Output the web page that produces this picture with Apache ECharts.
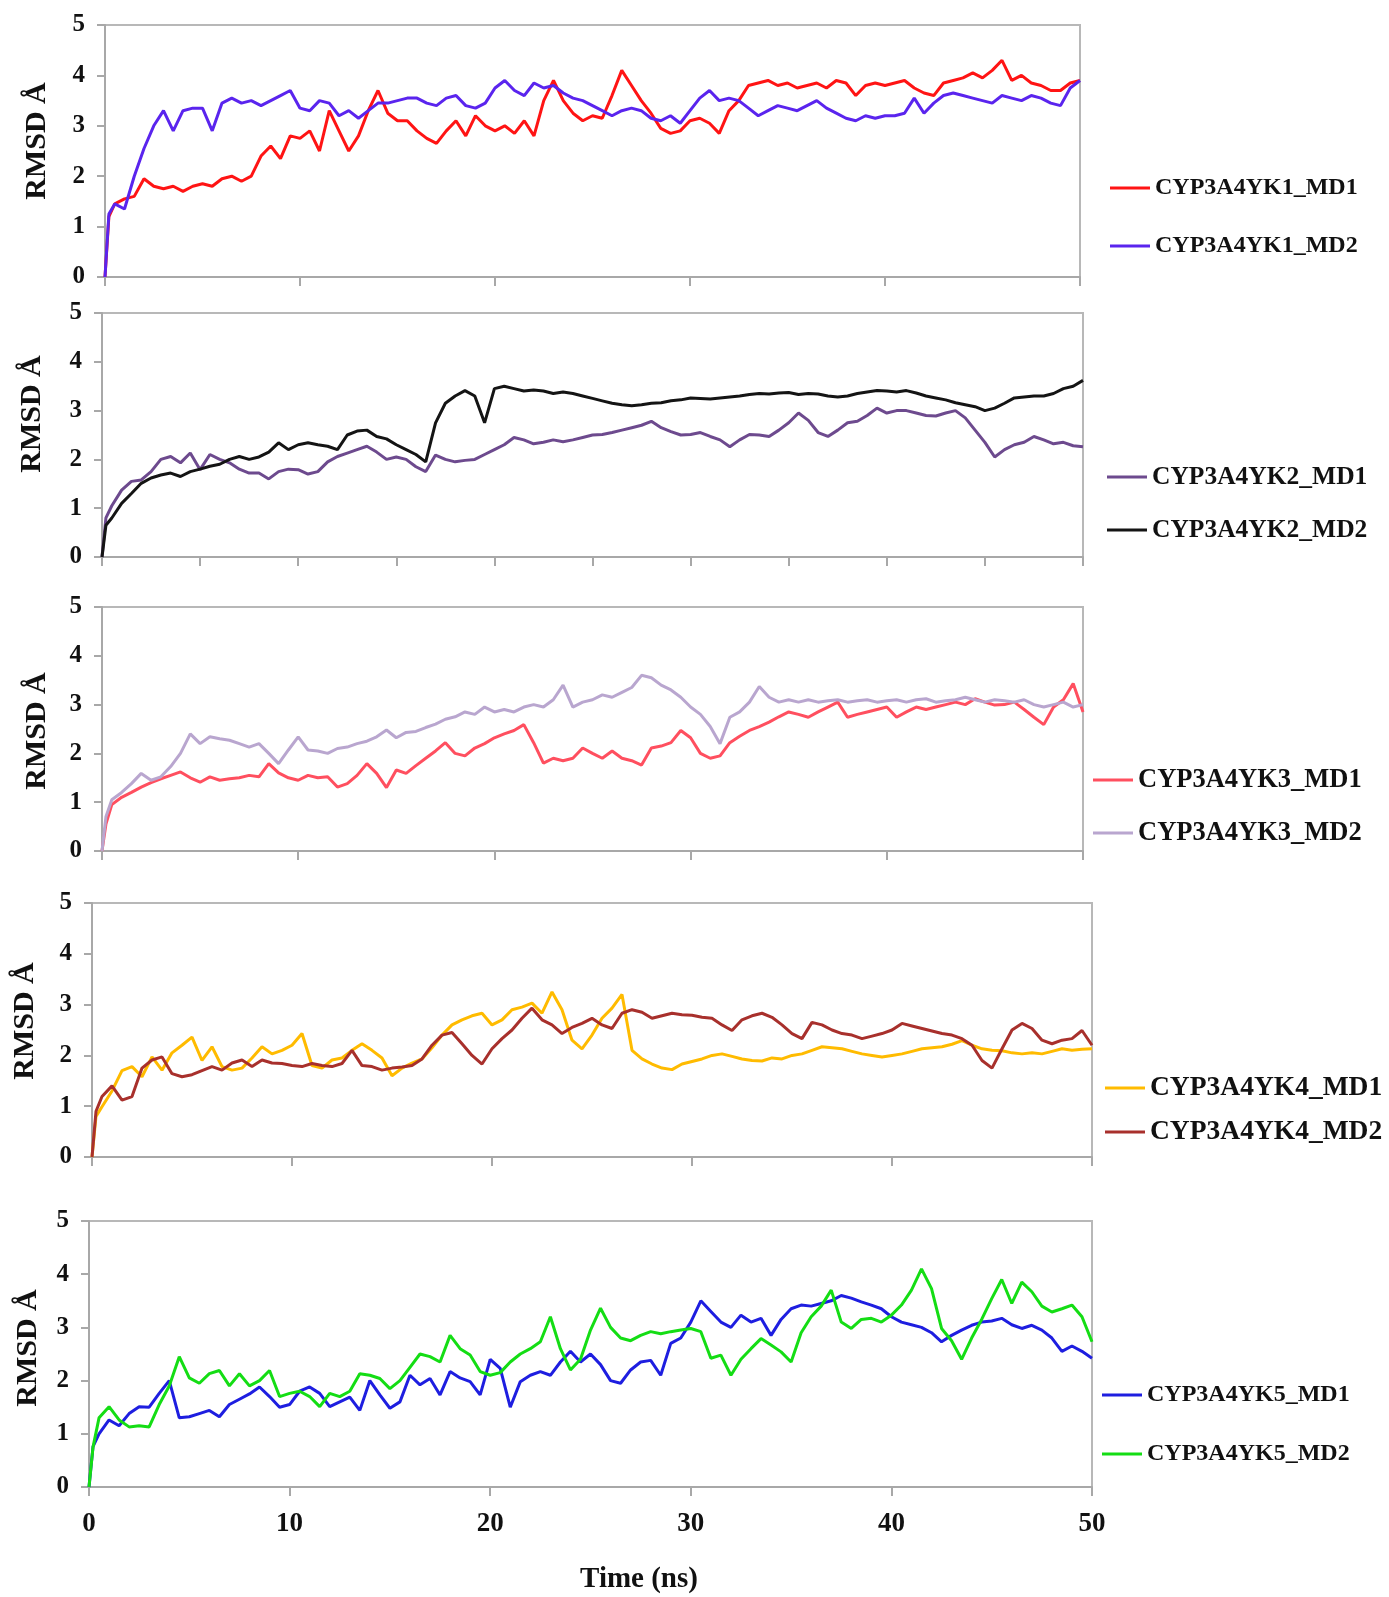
<!DOCTYPE html>
<html>
<head>
<meta charset="utf-8">
<title>CYP3A4 RMSD</title>
<script src="https://cdn.jsdelivr.net/npm/echarts@6/dist/echarts.min.js"></script>
<style>
  html, body { margin: 0; padding: 0; background: #fff; }
  #chart { width: 1389px; height: 1597px; }
</style>
</head>
<body>
<div id="chart"></div>
<script>
// time (ns)
var times = [0, 0.2,
  0.5, 1, 1.5, 2, 2.5, 3, 3.5, 4, 4.5, 5,
  5.5, 6, 6.5, 7, 7.5, 8, 8.5, 9, 9.5, 10,
  10.5, 11, 11.5, 12, 12.5, 13, 13.5, 14, 14.5, 15,
  15.5, 16, 16.5, 17, 17.5, 18, 18.5, 19, 19.5, 20,
  20.5, 21, 21.5, 22, 22.5, 23, 23.5, 24, 24.5, 25,
  25.5, 26, 26.5, 27, 27.5, 28, 28.5, 29, 29.5, 30,
  30.5, 31, 31.5, 32, 32.5, 33, 33.5, 34, 34.5, 35,
  35.5, 36, 36.5, 37, 37.5, 38, 38.5, 39, 39.5, 40,
  40.5, 41, 41.5, 42, 42.5, 43, 43.5, 44, 44.5, 45,
  45.5, 46, 46.5, 47, 47.5, 48, 48.5, 49, 49.5, 50];

// RMSD (Å) per run
var yk1md1 = [0, 1.2,
  1.45, 1.55, 1.6, 1.95, 1.8, 1.75, 1.8, 1.7, 1.8, 1.85,
  1.8, 1.95, 2.0, 1.9, 2.0, 2.4, 2.6, 2.35, 2.8, 2.75,
  2.9, 2.5, 3.3, 2.9, 2.5, 2.8, 3.3, 3.7, 3.25, 3.1,
  3.1, 2.9, 2.75, 2.65, 2.9, 3.1, 2.8, 3.2, 3.0, 2.9,
  3.0, 2.85, 3.1, 2.8, 3.5, 3.9, 3.5, 3.25, 3.1, 3.2,
  3.15, 3.6, 4.1, 3.8, 3.5, 3.25, 2.95, 2.85, 2.9, 3.1,
  3.15, 3.05, 2.85, 3.3, 3.5, 3.8, 3.85, 3.9, 3.8, 3.85,
  3.75, 3.8, 3.85, 3.75, 3.9, 3.85, 3.6, 3.8, 3.85, 3.8,
  3.85, 3.9, 3.75, 3.65, 3.6, 3.85, 3.9, 3.95, 4.05, 3.95,
  4.1, 4.3, 3.9, 4.0, 3.85, 3.8, 3.7, 3.7, 3.85, 3.9];
var yk1md2 = [0, 1.25,
  1.45, 1.35, 2.0, 2.55, 3.0, 3.3, 2.9, 3.3, 3.35, 3.35,
  2.9, 3.45, 3.55, 3.45, 3.5, 3.4, 3.5, 3.6, 3.7, 3.35,
  3.3, 3.5, 3.45, 3.2, 3.3, 3.15, 3.3, 3.45, 3.45, 3.5,
  3.55, 3.55, 3.45, 3.4, 3.55, 3.6, 3.4, 3.35, 3.45, 3.75,
  3.9, 3.7, 3.6, 3.85, 3.75, 3.8, 3.65, 3.55, 3.5, 3.4,
  3.3, 3.2, 3.3, 3.35, 3.3, 3.15, 3.1, 3.2, 3.05, 3.3,
  3.55, 3.7, 3.5, 3.55, 3.5, 3.35, 3.2, 3.3, 3.4, 3.35,
  3.3, 3.4, 3.5, 3.35, 3.25, 3.15, 3.1, 3.2, 3.15, 3.2,
  3.2, 3.25, 3.55, 3.25, 3.45, 3.6, 3.65, 3.6, 3.55, 3.5,
  3.45, 3.6, 3.55, 3.5, 3.6, 3.55, 3.45, 3.4, 3.75, 3.9];

var yk2md1 = [0, 0.8,
  1.05, 1.37, 1.55, 1.58, 1.75, 2.0, 2.06, 1.93, 2.13, 1.79,
  2.1, 2.0, 1.93, 1.8, 1.72, 1.72, 1.6, 1.75, 1.8, 1.79,
  1.7, 1.75, 1.95, 2.06, 2.13, 2.2, 2.27, 2.15, 2.0, 2.05,
  2.0, 1.85, 1.75, 2.09, 2.0, 1.95, 1.98, 2.0, 2.1, 2.2,
  2.3, 2.45, 2.4, 2.32, 2.35, 2.4, 2.36, 2.4, 2.45, 2.5,
  2.51, 2.55, 2.6, 2.65, 2.7, 2.78, 2.65, 2.57, 2.5, 2.51,
  2.55, 2.47, 2.4, 2.26, 2.4, 2.51, 2.5, 2.47, 2.6, 2.75,
  2.95, 2.8, 2.55, 2.47, 2.6, 2.75, 2.78, 2.9, 3.05, 2.95,
  3.0, 3.0, 2.95, 2.9, 2.89, 2.95, 3.0, 2.85, 2.6, 2.35,
  2.05, 2.2, 2.3, 2.35, 2.47, 2.4, 2.32, 2.35, 2.28, 2.26];
var yk2md2 = [0, 0.65,
  0.8, 1.1, 1.3, 1.51, 1.62, 1.68, 1.72, 1.65, 1.75, 1.8,
  1.86, 1.9, 2.0, 2.06, 2.0, 2.05, 2.15, 2.34, 2.2, 2.3,
  2.34, 2.3, 2.27, 2.2, 2.5, 2.58, 2.6, 2.47, 2.42, 2.3,
  2.2, 2.1, 1.95, 2.75, 3.15, 3.3, 3.41, 3.3, 2.75, 3.45,
  3.5, 3.45, 3.4, 3.42, 3.4, 3.35, 3.38, 3.35, 3.3, 3.25,
  3.2, 3.15, 3.12, 3.1, 3.12, 3.15, 3.16, 3.2, 3.22, 3.26,
  3.25, 3.24, 3.26, 3.28, 3.3, 3.33, 3.35, 3.34, 3.36, 3.37,
  3.33, 3.35, 3.34, 3.3, 3.28, 3.3, 3.35, 3.38, 3.41, 3.4,
  3.38, 3.41, 3.36, 3.3, 3.26, 3.22, 3.16, 3.12, 3.08, 3.0,
  3.05, 3.15, 3.26, 3.28, 3.3, 3.3, 3.35, 3.45, 3.5, 3.62];

var yk3md1 = [0, 0.55,
  0.95, 1.1, 1.2, 1.31, 1.4, 1.48, 1.55, 1.62, 1.5, 1.41,
  1.52, 1.45, 1.48, 1.5, 1.55, 1.52, 1.79, 1.6, 1.5, 1.45,
  1.55, 1.5, 1.52, 1.31, 1.38, 1.55, 1.79, 1.59, 1.3, 1.66,
  1.59, 1.75, 1.9, 2.05, 2.22, 2.0, 1.95, 2.11, 2.2, 2.32,
  2.4, 2.47, 2.59, 2.22, 1.8, 1.9, 1.85, 1.9, 2.11, 2.0,
  1.9, 2.05, 1.9, 1.85, 1.76, 2.11, 2.15, 2.22, 2.47, 2.32,
  2.0, 1.9, 1.95, 2.22, 2.35, 2.47, 2.55, 2.64, 2.75, 2.85,
  2.8, 2.74, 2.85, 2.95, 3.05, 2.74, 2.8, 2.85, 2.9, 2.95,
  2.74, 2.85, 2.95, 2.9, 2.95, 3.0, 3.05, 3.0, 3.12, 3.05,
  2.99, 3.0, 3.05, 2.9, 2.74, 2.59, 2.95, 3.1, 3.43, 2.85];
var yk3md2 = [0, 0.7,
  1.05, 1.2, 1.38, 1.59, 1.45, 1.52, 1.73, 2.0, 2.4, 2.2,
  2.34, 2.3, 2.27, 2.2, 2.13, 2.2, 2.0, 1.79, 2.07, 2.34,
  2.07, 2.05, 2.0, 2.1, 2.13, 2.2, 2.25, 2.34, 2.48, 2.32,
  2.43, 2.45, 2.53, 2.6, 2.7, 2.75, 2.85, 2.8, 2.95, 2.85,
  2.9, 2.85, 2.95, 3.0, 2.95, 3.1, 3.4, 2.95, 3.05, 3.1,
  3.2, 3.15, 3.25, 3.35, 3.6, 3.55, 3.4, 3.3, 3.15, 2.95,
  2.8, 2.55, 2.2, 2.74, 2.85, 3.05, 3.37, 3.15, 3.05, 3.1,
  3.05, 3.1, 3.05, 3.08, 3.1, 3.05, 3.08, 3.1, 3.05, 3.08,
  3.1, 3.05, 3.1, 3.12, 3.05, 3.08, 3.1, 3.15, 3.1, 3.05,
  3.1, 3.08, 3.05, 3.1, 3.0, 2.95, 3.0, 3.05, 2.95, 3.0];

var yk4md1 = [0, 0.8,
  0.99, 1.3, 1.7, 1.78, 1.58, 1.97, 1.71, 2.05, 2.2, 2.36,
  1.9, 2.17, 1.78, 1.71, 1.75, 1.95, 2.17, 2.03, 2.1, 2.2,
  2.43, 1.8, 1.75, 1.91, 1.95, 2.1, 2.23, 2.1, 1.95, 1.6,
  1.75, 1.85, 1.93, 2.15, 2.4, 2.6, 2.7, 2.78, 2.83, 2.6,
  2.7, 2.9, 2.95, 3.03, 2.83, 3.25, 2.9, 2.3, 2.13, 2.4,
  2.73, 2.93, 3.2, 2.1, 1.93, 1.83, 1.75, 1.72, 1.83, 1.88,
  1.93, 2.0, 2.03, 1.98, 1.93, 1.9, 1.89, 1.95, 1.93, 2.0,
  2.03, 2.1, 2.17, 2.15, 2.13, 2.08, 2.03, 2.0, 1.97, 2.0,
  2.03, 2.08, 2.13, 2.15, 2.17, 2.22, 2.29, 2.2, 2.13, 2.1,
  2.09, 2.05, 2.03, 2.05, 2.03, 2.08, 2.13, 2.1, 2.12, 2.13];
var yk4md2 = [0, 0.9,
  1.19, 1.4, 1.12, 1.19, 1.75, 1.91, 1.97, 1.64, 1.58, 1.62,
  1.7, 1.78, 1.71, 1.85, 1.91, 1.78, 1.91, 1.85, 1.84, 1.8,
  1.78, 1.84, 1.8, 1.78, 1.84, 2.1, 1.8, 1.78, 1.71, 1.75,
  1.77, 1.8, 1.93, 2.2, 2.4, 2.45, 2.23, 2.0, 1.83, 2.13,
  2.33, 2.5, 2.73, 2.93, 2.7, 2.6, 2.43, 2.55, 2.63, 2.73,
  2.6, 2.53, 2.83, 2.9, 2.85, 2.73, 2.78, 2.83, 2.8, 2.79,
  2.75, 2.73, 2.6, 2.49, 2.7, 2.78, 2.83, 2.75, 2.6, 2.43,
  2.33, 2.65, 2.6, 2.5, 2.43, 2.4, 2.33, 2.38, 2.43, 2.5,
  2.63, 2.58, 2.53, 2.48, 2.43, 2.4, 2.33, 2.2, 1.9, 1.75,
  2.13, 2.5, 2.63, 2.53, 2.3, 2.23, 2.3, 2.33, 2.49, 2.2];

var yk5md1 = [0, 0.76,
  1.0, 1.26, 1.15, 1.38, 1.51, 1.5, 1.76, 2.0, 1.3, 1.32,
  1.38, 1.44, 1.32, 1.55, 1.65, 1.75, 1.88, 1.7, 1.5, 1.55,
  1.8, 1.88, 1.76, 1.51, 1.6, 1.69, 1.44, 2.0, 1.73, 1.48,
  1.6, 2.1, 1.92, 2.04, 1.73, 2.17, 2.05, 1.98, 1.73, 2.4,
  2.23, 1.5, 1.98, 2.1, 2.17, 2.1, 2.35, 2.55, 2.35, 2.5,
  2.3, 2.0, 1.95, 2.2, 2.35, 2.38, 2.1, 2.7, 2.8, 3.1,
  3.5, 3.3, 3.1, 3.0, 3.23, 3.1, 3.17, 2.85, 3.15, 3.35,
  3.42, 3.4, 3.45, 3.5, 3.6, 3.55, 3.48, 3.42, 3.35, 3.2,
  3.1, 3.05, 3.0, 2.9, 2.73, 2.85, 2.95, 3.04, 3.1, 3.12,
  3.17, 3.05, 2.98, 3.04, 2.95, 2.8, 2.55, 2.65, 2.55, 2.42];
var yk5md2 = [0, 0.75,
  1.3, 1.51, 1.26, 1.13, 1.15, 1.13, 1.55, 1.9, 2.45, 2.05,
  1.95, 2.13, 2.19, 1.9, 2.13, 1.9, 2.0, 2.19, 1.7, 1.76,
  1.8, 1.7, 1.51, 1.76, 1.7, 1.8, 2.13, 2.1, 2.04, 1.85,
  2.0, 2.25, 2.5, 2.45, 2.35, 2.85, 2.6, 2.48, 2.17, 2.1,
  2.15, 2.35, 2.5, 2.6, 2.73, 3.2, 2.6, 2.2, 2.4, 2.95,
  3.36, 3.0, 2.8, 2.75, 2.85, 2.92, 2.88, 2.92, 2.95, 2.98,
  2.92, 2.42, 2.48, 2.1, 2.4, 2.6, 2.79, 2.67, 2.54, 2.35,
  2.9, 3.2, 3.4, 3.7, 3.1, 2.98, 3.15, 3.17, 3.1, 3.23,
  3.42, 3.7, 4.1, 3.73, 2.98, 2.75, 2.4, 2.8, 3.15, 3.54,
  3.9, 3.45, 3.85, 3.67, 3.4, 3.29, 3.35, 3.42, 3.2, 2.73];

var yTicks = [0, 1, 2, 3, 4, 5];
var xTicks = [0, 10, 20, 30, 40, 50];

var panels = [
  { names: ['CYP3A4YK1_MD1', 'CYP3A4YK1_MD2'], data: [yk1md1, yk1md2], colors: ['#ff1414', '#5a24ee'] },
  { names: ['CYP3A4YK2_MD1', 'CYP3A4YK2_MD2'], data: [yk2md1, yk2md2], colors: ['#6d4a8e', '#141414'] },
  { names: ['CYP3A4YK3_MD1', 'CYP3A4YK3_MD2'], data: [yk3md1, yk3md2], colors: ['#ff4f5f', '#b9a6cf'] },
  { names: ['CYP3A4YK4_MD1', 'CYP3A4YK4_MD2'], data: [yk4md1, yk4md2], colors: ['#ffbb00', '#a8302c'] },
  { names: ['CYP3A4YK5_MD1', 'CYP3A4YK5_MD2'], data: [yk5md1, yk5md2], colors: ['#1e1ee0', '#14dd14'] }
];

// layout of each panel (px)
var layout = [
  { grid: { left: 105, top: 25, width: 975, height: 252 }, xStep: 10, legLeft: 1110, legTop: 174, legGap: 30, legFont: 24, title: [37, 141] },
  { grid: { left: 102, top: 313, width: 981, height: 244 }, xStep: 5, legLeft: 1107, legTop: 463, legGap: 25, legFont: 25.5, title: [32, 414] },
  { grid: { left: 102, top: 607, width: 981, height: 244 }, xStep: 10, legLeft: 1093, legTop: 766, legGap: 25, legFont: 26.5, title: [37, 731] },
  { grid: { left: 92, top: 903, width: 1000, height: 254 }, xStep: 10, legLeft: 1105, legTop: 1074, legGap: 16, legFont: 27.5, title: [25, 1021] },
  { grid: { left: 89, top: 1221, width: 1003, height: 266 }, xStep: 10, legLeft: 1102, legTop: 1381, legGap: 31, legFont: 24, title: [28, 1348] }
];

var serif = '"Liberation Serif", "Times New Roman", serif';
var axisGray = '#a8a8a8';

var grids = [], xAxes = [], yAxes = [], series = [], legends = [], graphics = [];

panels.forEach(function (p, i) {
  var L = layout[i];
  var last = i === panels.length - 1;
  grids.push(Object.assign({ show: true, borderColor: '#b8b8b8', borderWidth: 2 }, L.grid));
  xAxes.push({
    gridIndex: i, type: 'value', min: 0, max: 50, interval: L.xStep,
    axisLine: { lineStyle: { color: axisGray, width: 2 } },
    axisTick: { show: true, length: 9, lineStyle: { color: axisGray, width: 2 } },
    splitLine: { show: false },
    axisLabel: {
      show: last, margin: 24, color: '#111', fontFamily: serif, fontWeight: 'bold', fontSize: 27,
      formatter: function (v) { return xTicks.indexOf(v) >= 0 ? String(v) : ''; }
    }
  });
  yAxes.push({
    gridIndex: i, type: 'value', min: yTicks[0], max: yTicks[yTicks.length - 1], interval: 1,
    axisLine: { show: true, lineStyle: { color: axisGray, width: 2 } },
    axisTick: { show: true, length: 8, lineStyle: { color: axisGray, width: 2 } },
    splitLine: { show: false },
    axisLabel: { margin: 20, color: '#111', fontFamily: serif, fontWeight: 'bold', fontSize: 25 }
  });
  p.names.forEach(function (name, k) {
    var arr = p.data[k];
    series.push({
      name: name, type: 'line', xAxisIndex: i, yAxisIndex: i,
      symbol: 'none', showSymbol: false,
      lineStyle: { color: p.colors[k], width: 3 },
      itemStyle: { color: p.colors[k] },
      data: times.map(function (t, j) { return [t, arr[j]]; })
    });
  });
  legends.push({
    data: p.names, orient: 'vertical', left: L.legLeft, top: L.legTop, padding: 0,
    icon: 'rect', itemWidth: 40, itemHeight: 3, itemGap: L.legGap,
    textStyle: { color: '#111', fontFamily: serif, fontWeight: 'bold', fontSize: L.legFont, lineHeight: 28 }
  });
  graphics.push({
    type: 'text', x: L.title[0], y: L.title[1], rotation: Math.PI / 2,
    style: { text: 'RMSD Å', fill: '#111', font: 'bold 30px "Liberation Serif"', align: 'center', verticalAlign: 'middle' }
  });
});

graphics.push({
  type: 'text', x: 639, y: 1580,
  style: { text: 'Time (ns)', fill: '#111', font: 'bold 29px "Liberation Serif"', align: 'center', verticalAlign: 'middle' }
});

var chart = echarts.init(document.getElementById('chart'));
chart.setOption({
  backgroundColor: '#fff',
  animation: false,
  grid: grids,
  xAxis: xAxes,
  yAxis: yAxes,
  legend: legends,
  graphic: graphics,
  series: series
});
</script>
</body>
</html>
